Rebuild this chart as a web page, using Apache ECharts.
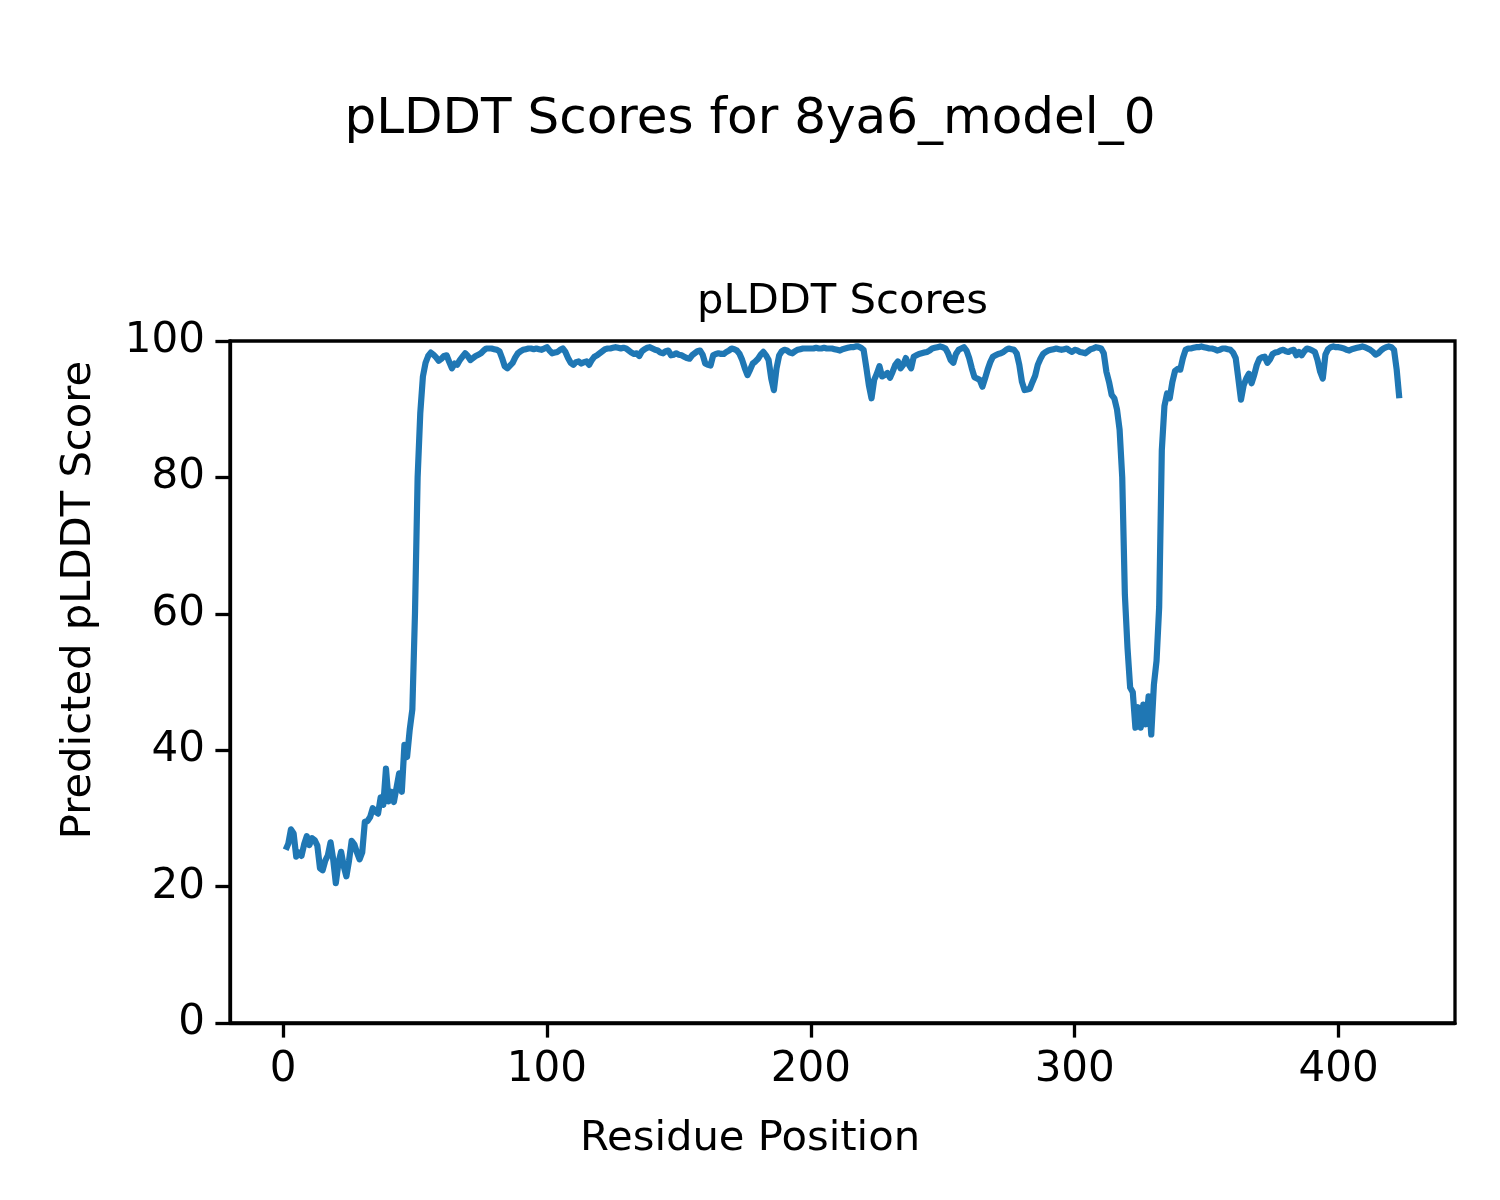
<!DOCTYPE html>
<html>
<head>
<meta charset="utf-8">
<script src="https://cdn.jsdelivr.net/npm/echarts@6/dist/echarts.min.js"></script>
<style>
html,body{margin:0;padding:0;background:#fff;}
#chart{width:1500px;height:1200px;}
</style>
</head>
<body>
<div id="chart"></div>
<script>
// pLDDT per residue (residues 1..423)
const plddt = [
25.4,26.3,28.4,27.8,24.4,25.0,24.5,26.2,27.4,26.1,
27.1,26.8,26.0,22.7,22.4,23.8,24.6,26.5,24.0,20.5,
23.5,25.1,23.0,21.5,23.8,26.7,26.2,25.0,24.0,25.0,
29.5,29.6,30.2,31.5,31.0,30.7,33.1,32.0,37.3,32.5,
33.9,32.4,34.5,36.6,33.9,40.8,39.0,43.0,46.0,60.1,
80.0,89.4,94.8,96.8,97.8,98.3,98.0,97.6,97.1,97.4,
97.8,97.9,96.9,96.0,96.7,96.5,97.2,97.7,98.2,97.8,
97.2,97.5,97.8,98.0,98.2,98.6,98.9,98.9,98.9,98.8,
98.7,98.5,97.5,96.3,96.0,96.4,96.8,97.6,98.2,98.5,
98.7,98.8,98.9,98.9,98.8,98.9,98.8,98.7,98.9,99.1,
98.6,98.2,98.3,98.4,98.7,98.9,98.4,97.5,96.8,96.5,
96.9,97.0,96.7,96.9,97.0,96.5,97.2,97.7,97.9,98.2,
98.5,98.8,98.9,98.9,99.0,99.1,99.0,98.9,99.0,98.9,
98.6,98.3,98.1,98.2,97.8,98.5,98.8,99.0,99.1,98.9,
98.7,98.6,98.3,98.2,98.5,98.6,97.9,98.0,98.2,98.0,
97.9,97.7,97.5,97.4,97.9,98.2,98.5,98.6,98.0,96.7,
96.5,96.4,97.9,98.1,98.2,98.1,98.1,98.4,98.6,98.9,
98.8,98.6,98.1,97.2,96.0,95.0,95.8,96.7,97.0,97.4,
98.0,98.4,97.9,97.2,94.5,92.8,96.0,97.9,98.5,98.7,
98.6,98.3,98.2,98.5,98.7,98.8,98.9,98.9,98.9,98.9,
98.9,99.0,98.9,98.9,99.0,98.9,98.9,98.9,98.8,98.7,
98.6,98.8,98.9,99.0,99.1,99.1,99.2,99.2,99.0,98.7,
96.2,93.5,91.6,94.3,95.2,96.3,94.8,95.0,95.3,94.6,
95.5,96.5,97.0,96.0,96.5,97.5,96.6,96.0,97.7,97.9,
98.1,98.2,98.3,98.4,98.6,98.9,99.0,99.1,99.2,99.1,
98.9,98.2,97.2,96.8,98.1,98.7,98.9,99.1,98.6,97.5,
96.0,94.7,94.5,94.3,93.3,94.5,95.8,96.9,97.7,97.9,
98.1,98.2,98.4,98.7,98.9,98.8,98.7,98.2,96.5,94.0,
92.8,92.9,93.0,94.0,94.9,96.5,97.4,98.1,98.4,98.6,
98.7,98.8,98.9,98.8,98.7,98.8,98.9,98.6,98.4,98.7,
98.6,98.4,98.3,98.2,98.5,98.8,98.9,99.1,99.0,98.9,
98.2,95.5,94.0,92.1,91.6,90.0,87.0,80.0,62.8,55.0,
49.2,48.5,43.3,46.3,43.3,46.7,43.8,47.9,42.3,49.6,
53.1,61.0,84.0,90.5,92.3,91.6,94.0,95.6,95.9,95.8,
97.5,98.7,98.9,98.9,99.0,99.1,99.1,99.2,99.1,99.0,
98.9,98.9,98.8,98.6,98.7,98.9,98.9,98.8,98.7,98.3,
97.5,94.5,91.4,93.5,94.5,95.2,93.8,95.0,96.5,97.4,
97.6,97.7,96.8,97.3,98.1,98.3,98.4,98.6,98.7,98.5,
98.4,98.6,98.7,97.9,98.4,97.9,98.5,98.9,98.8,98.6,
98.4,97.2,95.5,94.5,98.0,98.8,99.1,99.2,99.1,99.1,
99.0,98.9,98.7,98.6,98.8,98.9,99.0,99.1,99.2,99.1,
98.9,98.7,98.4,98.0,98.2,98.6,98.9,99.1,99.2,99.1,
98.7,95.8,91.6
];
const residues = plddt.map((_, i) => i + 1);
const xTicks = [0, 100, 200, 300, 400];
const yTicks = [0, 20, 40, 60, 80, 100];

const FONT = "'DejaVu Sans', sans-serif";
const chart = echarts.init(document.getElementById('chart'), null, {renderer: 'canvas'});
const n = residues.length;
const span = residues[n - 1] - residues[0];
const option = {
  animation: false,
  backgroundColor: '#ffffff',
  grid: {left: 230, right: 45, top: 341, bottom: 177, show: true,
         borderColor: '#000', borderWidth: 3.3, backgroundColor: 'transparent'},
  xAxis: {
    type: 'value',
    min: residues[0] - 0.05 * span,
    max: residues[n - 1] + 0.05 * span,
    splitLine: {show: false},
    axisLine: {show: true, onZero: false, lineStyle: {color: '#000', width: 3.3}},
    axisTick: {show: true, length: 14.6, lineStyle: {color: '#000', width: 3.3}, customValues: xTicks},
    axisLabel: {color: '#000', fontSize: 42, fontFamily: FONT, margin: 26, customValues: xTicks}
  },
  yAxis: {
    type: 'value',
    min: 0, max: 100, interval: 20,
    splitLine: {show: false},
    axisLine: {show: true, onZero: false, lineStyle: {color: '#000', width: 3.3}},
    axisTick: {show: true, length: 14.6, lineStyle: {color: '#000', width: 3.3}},
    axisLabel: {color: '#000', fontSize: 42, fontFamily: FONT, margin: 25,
                formatter: v => yTicks.includes(v) ? String(v) : ''}
  },
  series: [{
    type: 'line',
    data: residues.map((r, i) => [r, plddt[i]]),
    showSymbol: false,
    symbol: 'none',
    lineStyle: {color: '#1f77b4', width: 6.2, join: 'round', cap: 'butt'},
    itemStyle: {color: '#1f77b4'}
  }],
  graphic: [
    {type: 'text', x: 750, y: 120, style: {text: 'pLDDT Scores for 8ya6_model_0', font: '50px ' + FONT, fill: '#000', textAlign: 'center', textVerticalAlign: 'middle'}},
    {type: 'text', x: 842.5, y: 302, style: {text: 'pLDDT Scores', font: '41.7px ' + FONT, fill: '#000', textAlign: 'center', textVerticalAlign: 'middle'}},
    {type: 'text', x: 750, y: 1139, style: {text: 'Residue Position', font: '41.7px ' + FONT, fill: '#000', textAlign: 'center', textVerticalAlign: 'middle'}},
    {type: 'text', x: 79, y: 600, rotation: Math.PI / 2, style: {text: 'Predicted pLDDT Score', font: '41.7px ' + FONT, fill: '#000', textAlign: 'center', textVerticalAlign: 'middle'}}
  ]
};
chart.setOption(option);
</script>
</body>
</html>
